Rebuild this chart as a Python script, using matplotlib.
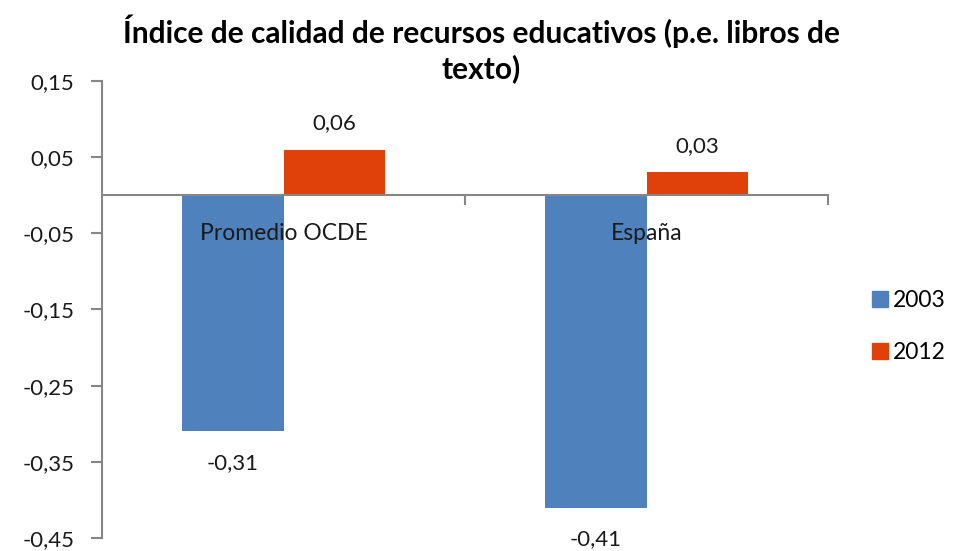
import matplotlib
matplotlib.use("Agg")
import matplotlib.pyplot as plt
from matplotlib.patches import Patch
import numpy as np

categories = ["Promedio OCDE", "España"]
series_names = ["2003", "2012"]
values_2003 = [-0.31, -0.41]
values_2012 = [0.06, 0.03]
yticks = [0.15, 0.05, -0.05, -0.15, -0.25, -0.35, -0.45]
title = "Índice de calidad de recursos educativos (p.e. libros de\ntexto)"

c2003 = "#4F81BD"
c2012 = "#E0400A"
axis_col = "#868686"
txt_col = "#1a1a1a"

plt.rcParams['font.family'] = ['Lato', 'DejaVu Sans']

fig = plt.figure(figsize=(9.63, 5.51), dpi=100)
ax = fig.add_axes([0.106, 0.0236, 0.754, 0.8294])

x = np.arange(len(categories))
w = 0.28
b1 = ax.bar(x - w/2, values_2003, w, color=c2003, zorder=2)
b2 = ax.bar(x + w/2, values_2012, w, color=c2012, zorder=2)

ax.set_xlim(-0.5, 1.5)
ax.set_ylim(-0.45, 0.15)
ax.set_yticks(yticks)
ax.set_yticklabels([f"{v:.2f}".replace(".", ",") for v in yticks], fontsize=16, color=txt_col)
ax.tick_params(axis='y', direction='out', length=8, color=axis_col, width=1.5, pad=12)

for s in ['top', 'right']:
    ax.spines[s].set_visible(False)
ax.spines['left'].set_color(axis_col)
ax.spines['left'].set_linewidth(1.5)
ax.spines['bottom'].set_position(('data', 0))
ax.spines['bottom'].set_color(axis_col)
ax.spines['bottom'].set_linewidth(1.5)
ax.spines['bottom'].set_zorder(3)
ax.set_xticks([0.5, 1.5])
ax.set_xticklabels(["", ""])
ax.tick_params(axis='x', direction='out', length=7, color=axis_col, width=1.5)

for i, cat in enumerate(categories):
    ax.text(x[i], -0.05, cat, ha='center', va='center', fontsize=16.5, color=txt_col, zorder=4)

for bar, v in zip(b1, values_2003):
    ax.annotate(f"{v:.2f}".replace(".", ","), (bar.get_x() + bar.get_width()/2, v),
                xytext=(0, -23), textcoords='offset points', ha='center', va='center',
                fontsize=16, color=txt_col, annotation_clip=False)
for bar, v in zip(b2, values_2012):
    ax.annotate(f"{v:.2f}".replace(".", ","), (bar.get_x() + bar.get_width()/2, v),
                xytext=(0, 19), textcoords='offset points', ha='center', va='center',
                fontsize=16, color=txt_col, annotation_clip=False)

fig.text(0.5, 0.911, title, ha='center', va='center', fontsize=21.5, fontweight='bold',
         color='black', linespacing=1.25)

handles = [Patch(color=c2003), Patch(color=c2012)]
fig.legend(handles, series_names, loc='center left', bbox_to_anchor=(0.905, 0.408),
           frameon=False, fontsize=16.5, handlelength=0.7, handleheight=0.7,
           handletextpad=0.25, labelspacing=1.35, borderaxespad=0, borderpad=0)

fig.savefig("out.png", dpi=100)
